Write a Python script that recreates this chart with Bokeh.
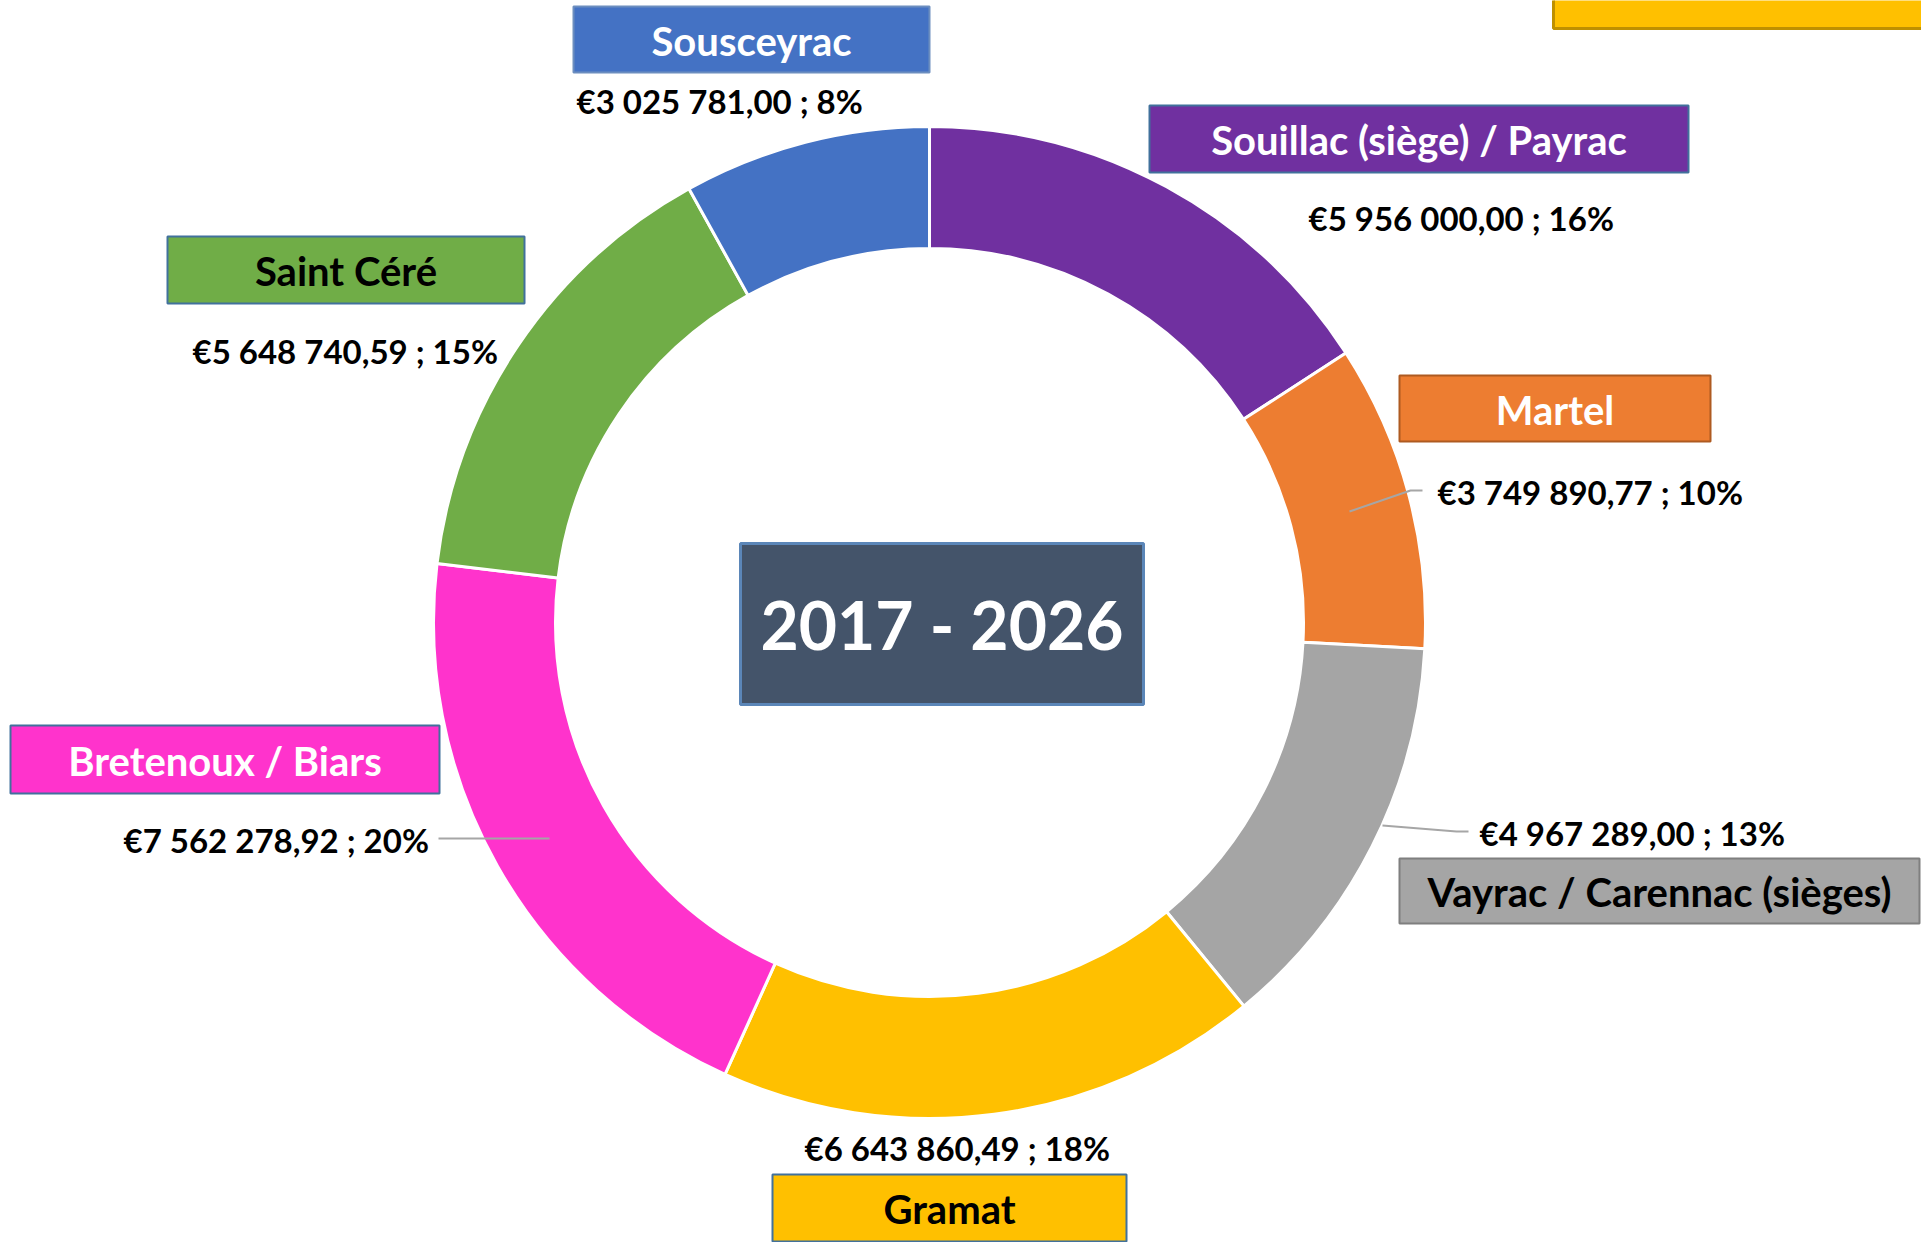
import math
from bokeh.plotting import figure
from bokeh.models import Range1d, ColumnDataSource
from bokeh.core.properties import value
from bokeh.embed import file_html
from bokeh.resources import INLINE

# ---------------- data ----------------
communes = ["Souillac (siège) / Payrac", "Martel", "Vayrac / Carennac (sièges)",
            "Gramat", "Bretenoux / Biars", "Saint Céré", "Sousceyrac"]
montants = [5956000.00, 3749890.77, 4967289.00, 6643860.49, 7562278.92, 5648740.59, 3025781.00]
periode = "2017 - 2026"

# ---------------- style ----------------
colors = ["#7030A0", "#ED7D31", "#A5A5A5", "#FFC000", "#FF33CC", "#70AD47", "#4472C4"]
box_text_colors = ["white", "white", "black", "black", "white", "black", "white"]
box_borders = ["#41719C", "#AE5A21", "#7F7F7F", "#41719C", "#41719C", "#41719C", "#6C8EBF"]
FONT = value("Lato")

W, H = 1921, 1242  # reference size: data y = H - pixel y


def Y(py):
    return H - py


# layout (pixel coordinates of the reference page)
box_rects = [(1149, 105, 1688, 172), (1399, 375, 1710, 441), (1399, 858, 1919, 923),
             (772, 1174, 1126, 1241), (10, 725, 439, 793), (167, 236, 524, 303),
             (573, 6, 929, 72)]
value_pos = [(1308, 217), (1437, 491), (1479, 832), (804, 1147), (123, 839), (192, 350), (576, 100)]
leaders = {1: [(1349, 511), (1410, 490), (1422, 490)],
           2: [(1382, 825), (1456, 831), (1468, 831)],
           4: [(438, 838), (549, 838)]}
cx, cy, r_out, r_in = 929, 622, 496, 374


def fmt(v):
    s = f"{v:,.2f}".replace(",", " ").replace(".", ",")
    return "€" + s


total = sum(montants)
pcts = [round(v / total * 100) for v in montants]
value_labels = [f"{fmt(v)} ; {p}%" for v, p in zip(montants, pcts)]

# angles, clockwise from the top
starts, ends = [], []
cum = 0.0
for v in montants:
    a0 = cum / total
    cum += v
    a1 = cum / total
    starts.append(math.pi / 2 - a1 * 2 * math.pi)
    ends.append(math.pi / 2 - a0 * 2 * math.pi)

p = figure(width=W, height=H, x_range=Range1d(0, W), y_range=Range1d(0, H),
           output_backend="svg", toolbar_location=None, min_border=0)
p.axis.visible = False
p.grid.visible = False
p.outline_line_color = None
p.background_fill_color = "white"

# donut
wsrc = ColumnDataSource(dict(start=starts, end=ends, color=colors))
p.annular_wedge(x=cx, y=Y(cy), inner_radius=r_in, outer_radius=r_out,
                start_angle="start", end_angle="end", direction="anticlock",
                fill_color="color", line_color="white", line_width=3, source=wsrc)

# leader lines
for k, pts in leaders.items():
    p.line([q[0] for q in pts], [Y(q[1]) for q in pts], line_color="#A6A6A6", line_width=2)

# partially visible box at top right
p.quad(left=[1553], right=[1930], top=[Y(-20)], bottom=[Y(28)],
       fill_color="#FFC000", line_color="#BF9000", line_width=3)

# category boxes
bsrc = ColumnDataSource(dict(
    left=[b[0] for b in box_rects], right=[b[2] for b in box_rects],
    top=[Y(b[1]) for b in box_rects], bottom=[Y(b[3]) for b in box_rects],
    fill=colors, border=box_borders,
    tx=[(b[0] + b[2]) / 2 for b in box_rects], ty=[Y((b[1] + b[3]) / 2 + 1) for b in box_rects],
    name=communes, tc=box_text_colors))
p.quad(left="left", right="right", top="top", bottom="bottom", fill_color="fill",
       line_color="border", line_width=2, source=bsrc)
p.text(x="tx", y="ty", text="name", text_color="tc", text_font=FONT, text_font_style="bold",
       text_font_size="40px", text_align="center", text_baseline="middle", source=bsrc)

# value labels
vsrc = ColumnDataSource(dict(x=[v[0] for v in value_pos], y=[Y(v[1]) for v in value_pos],
                             t=value_labels))
p.text(x="x", y="y", text="t", text_color="black", text_font=FONT, text_font_style="bold",
       text_font_size="33px", text_align="left", text_baseline="middle", source=vsrc)

# center box
p.quad(left=[740], right=[1143], top=[Y(543)], bottom=[Y(704)],
       fill_color="#44546A", line_color="#5B86B8", line_width=3)
p.text(x=[941.5], y=[Y(624)], text=[periode], text_color="white", text_font=FONT,
       text_font_style="bold", text_font_size="66px", text_align="center", text_baseline="middle")

open("out.html", "w").write(file_html(p, INLINE))
